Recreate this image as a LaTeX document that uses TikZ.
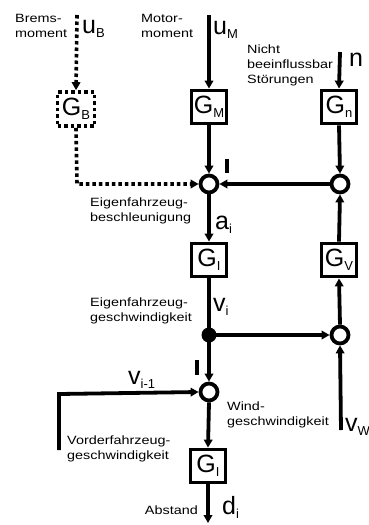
\documentclass[tikz,border=0pt]{standalone}
\usepackage{fontspec}
\setmainfont{Liberation Sans}
\newfontfamily\smallfam[FakeStretch=1.2]{Liberation Sans}
\usetikzlibrary{arrows.meta}
\newcommand{\bsig}[2]{{\fontsize{25}{25}\selectfont #1}\raisebox{-4pt}{\fontsize{13}{13}\selectfont #2}}
\begin{document}
\begin{tikzpicture}[x=1pt,y=-1pt,
  ln/.style={line width=3.8pt},
  arr/.style={line width=3.8pt,-{Triangle[length=8pt,width=8.5pt]}},
  darr/.style={line width=3.6pt,dash pattern=on 3.5pt off 3pt,-{Triangle[length=8pt,width=8.5pt]}},
  blk/.style={draw,line width=3.8pt,minimum width=35pt,minimum height=33pt,inner sep=0pt},
  dblk/.style={draw,line width=3.6pt,dash pattern=on 3.5pt off 3pt,minimum width=37pt,minimum height=34pt,inner sep=0pt},
  sumc/.style={circle,draw,line width=3.8pt,minimum size=17pt,inner sep=0pt},
  lbl/.style={font=\smallfam\fontsize{12}{15}\selectfont,align=left,inner sep=0pt,anchor=north west},
  sig/.style={inner sep=0pt,anchor=base west}
]
\useasboundingbox (0,0) rectangle (369,525);
% blocks
\node[dblk] (GB) at (76,109) {\bsig{G}{B}};
\node[blk] (GM) at (209,107) {\bsig{G}{M}};
\node[blk] (Gn) at (339,107) {\bsig{G}{n}};
\node[blk] (GI1) at (209,260) {\bsig{G}{I}};
\node[blk] (GV) at (339,260) {\bsig{G}{V}};
\node[blk] (GI2) at (208,466) {\bsig{G}{I}};
% junctions
\node[sumc] (s1) at (209,184) {};
\node[sumc] (r1) at (340,184) {};
\node[circle,fill,inner sep=0pt,minimum size=15pt] (dot) at (209,335) {};
\node[sumc] (r2) at (340,335) {};
\node[sumc] (s3) at (209,392) {};
% free ends
\coordinate (uBt) at (77,15);
\coordinate (uMt) at (209,15);
\coordinate (nt) at (340,52);
\coordinate (corner1) at (77,184);
\coordinate (vWb) at (341,430);
\coordinate (v1b) at (59,450);
\coordinate (v1c) at (59,394);
\coordinate (dout) at (208,523);
% connectors
\draw[darr] (uBt) -- (GB.north);
\draw[darr] (GB.south) -- (corner1) -- (s1.west);
\draw[arr] (uMt) -- (GM.north);
\draw[arr] (GM.south) -- (s1.north);
\draw[arr] (nt) -- (Gn.north);
\draw[arr] (Gn.south) -- (r1.north);
\draw[arr] (r1.west) -- (s1.east);
\draw[arr] (s1.south) -- (GI1.north);
\draw[ln] (GI1.south) -- (dot.center);
\draw[arr] (dot.center) -- (r2.west);
\draw[arr] (r2.north) -- (GV.south);
\draw[arr] (GV.north) -- (r1.south);
\draw[arr] (vWb) -- (r2.south);
\draw[arr] (dot.center) -- (s3.north);
\draw[arr] (v1b) -- (v1c) -- (s3.west);
\draw[arr] (s3.south) -- (GI2.north);
\draw[arr] (GI2.south) -- (dout);
% sign ticks
\coordinate (t1a) at (227,159); \coordinate (t1b) at (227,173);
\coordinate (t2a) at (197,360); \coordinate (t2b) at (197,375);
\draw[line width=4pt] (t1a) -- (t1b);
\draw[line width=4pt] (t2a) -- (t2b);
% text labels
\node[lbl] (brems) at (15,14) {Brems-\\moment};
\node[lbl] (motor) at (141,14) {Motor-\\moment};
\node[lbl] (nicht) at (247,45) {Nicht\\beeinflussbar\\Störungen};
\node[lbl] (eig1) at (90,198) {Eigenfahrzeug-\\beschleunigung};
\node[lbl] (eig2) at (90,298) {Eigenfahrzeug-\\geschwindigkeit};
\node[lbl] (vord) at (67,436) {Vorderfahrzeug-\\geschwindigkeit};
\node[lbl] (wind) at (227,402) {Wind-\\geschwindigkeit};
\node[lbl,anchor=north east] (abst) at (198,506) {Abstand};
% signal labels
\node[sig] (luB) at (82,33) {\bsig{u}{B}};
\node[sig] (luM) at (213,34) {\bsig{u}{M}};
\node[sig] (ln) at (349,66) {\bsig{n}{}};
\node[sig] (lai) at (215,229) {\bsig{a}{i}};
\node[sig] (lvi) at (213,311) {\bsig{v}{i}};
\node[sig] (lvi1) at (128,384) {\bsig{v}{i-1}};
\node[sig] (lvW) at (345,431) {\bsig{v}{W}};
\node[sig] (ldi) at (222,514) {\bsig{d}{i}};
\end{tikzpicture}
\end{document}
